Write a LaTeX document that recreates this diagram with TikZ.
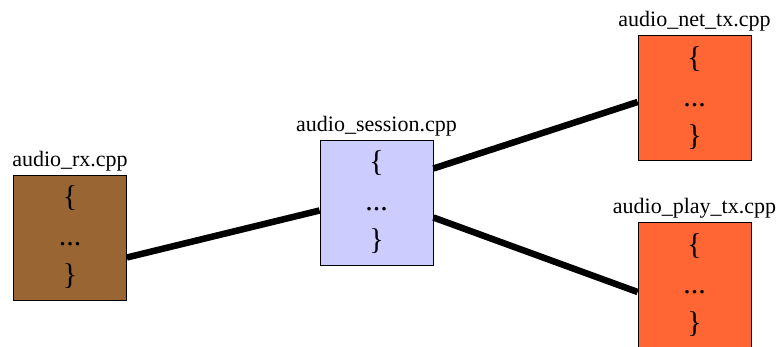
\documentclass[tikz,border=0pt]{standalone}
\usepackage{fontspec}
\setmainfont{Liberation Serif}
\newfontfamily\filefont{Liberation Serif}
\usetikzlibrary{positioning}
\definecolor{rxbrown}{RGB}{153,102,51}
\definecolor{sesslilac}{RGB}{204,204,255}
\definecolor{txorange}{RGB}{255,102,51}

\tikzset{
  srcfile/.style={draw=black,line width=0.8pt,minimum width=113pt,minimum height=125pt,
    inner sep=0pt,align=center,font=\filefont\fontsize{30}{39}\selectfont},
  fname/.style={font=\filefont\fontsize{22}{26}\selectfont},
  link/.style={line width=6.5pt,line cap=butt}
}

\begin{document}
\begin{tikzpicture}[x=1pt,y=1pt]
		\useasboundingbox (0,0) rectangle (776,346);
		\clip (0,0) rectangle (776,346);
		% one box per source file, name on top
		\node[srcfile,fill=rxbrown,label={[fname]above:audio\_rx.cpp}] (rx) at (70,108.5) {\{\\...\\\}};
		\node[srcfile,fill=sesslilac,label={[fname]above:audio\_session.cpp}] (sess) at (376.5,143.5) {\{\\...\\\}};
		\node[srcfile,fill=txorange,label={[fname]above:audio\_net\_tx.cpp}] (nettx) at (694.5,248) {\{\\...\\\}};
		\node[srcfile,fill=txorange,label={[fname]above:audio\_play\_tx.cpp}] (playtx) at (694.5,61) {\{\\...\\\}};
		% calls between the files
		\draw[link] ([yshift=-20pt]rx.east) -- ([yshift=-8pt]sess.west);
		\draw[link] ([yshift=34pt]sess.east) -- ([yshift=-4pt]nettx.west);
		\draw[link] ([yshift=-15pt]sess.east) -- ([yshift=-7pt]playtx.west);
\end{tikzpicture}
\end{document}
